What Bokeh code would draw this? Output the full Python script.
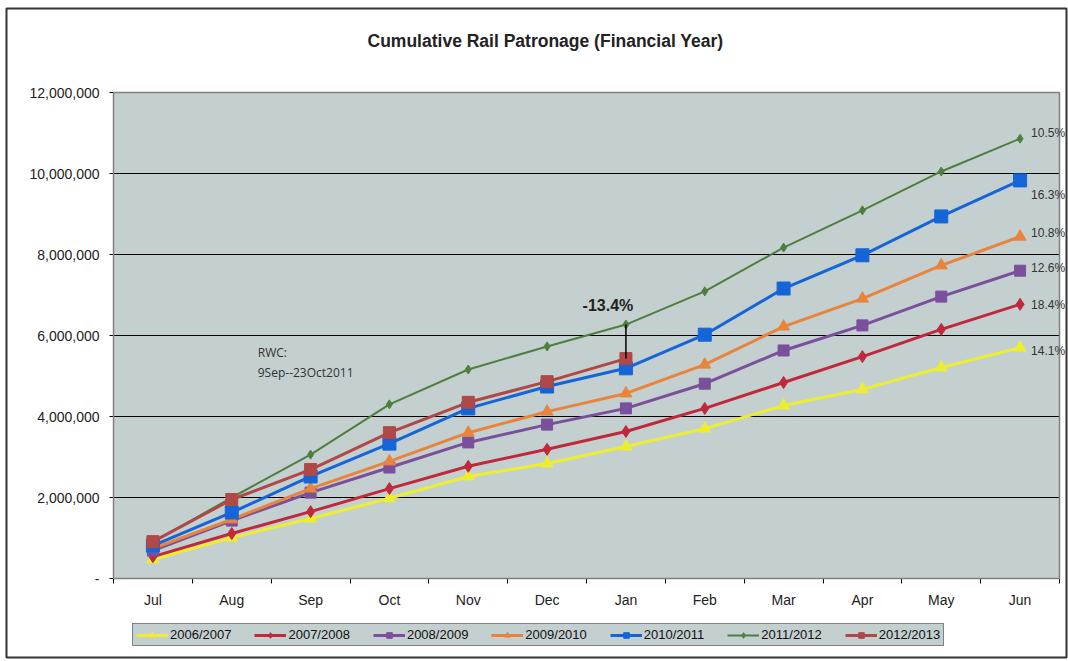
from bokeh.plotting import figure
from bokeh.models import (Range1d, LinearAxis, FixedTicker, CustomJSTickFormatter,
                          Label, Legend, LegendItem, BoxAnnotation)
from bokeh.embed import file_html
from bokeh.resources import INLINE

months = ["Jul", "Aug", "Sep", "Oct", "Nov", "Dec", "Jan", "Feb", "Mar", "Apr", "May", "Jun"]

fy_2006_2007 = [470000, 1010000, 1480000, 1980000, 2520000, 2840000, 3260000, 3700000, 4270000, 4670000, 5210000, 5700000]
fy_2007_2008 = [540000, 1110000, 1650000, 2220000, 2770000, 3190000, 3630000, 4200000, 4840000, 5480000, 6150000, 6770000]
fy_2008_2009 = [690000, 1430000, 2120000, 2740000, 3360000, 3800000, 4200000, 4810000, 5630000, 6250000, 6960000, 7600000]
fy_2009_2010 = [740000, 1460000, 2220000, 2890000, 3600000, 4120000, 4570000, 5280000, 6220000, 6910000, 7730000, 8440000]
fy_2010_2011 = [810000, 1630000, 2520000, 3330000, 4200000, 4740000, 5190000, 6020000, 7160000, 7980000, 8940000, 9830000]
fy_2011_2012 = [900000, 2000000, 3060000, 4300000, 5160000, 5730000, 6270000, 7090000, 8170000, 9090000, 10050000, 10860000]
fy_2012_2013 = [910000, 1950000, 2690000, 3600000, 4350000, 4860000, 5430000]

series_names = ["2006/2007", "2007/2008", "2008/2009", "2009/2010", "2010/2011", "2011/2012", "2012/2013"]
series_values = [fy_2006_2007, fy_2007_2008, fy_2008_2009, fy_2009_2010, fy_2010_2011, fy_2011_2012, fy_2012_2013]
growth_labels = ["14.1%", "18.4%", "12.6%", "10.8%", "16.3%", "10.5%", None]
y_ticks = [0, 2000000, 4000000, 6000000, 8000000, 10000000, 12000000]
y_max = 12000000
gap_label = "-13.4%"
gap_month = "Jan"
rwc_text = "RWC:\n9Sep--23Oct2011"
title_text = "Cumulative Rail Patronage (Financial Year)"

colors = ["#eeee30", "#c0283c", "#7a4f9c", "#e8843c", "#1565d8", "#4f7f3f", "#b04848"]
markers = ["triangle", "diamond", "square", "triangle", "square", "diamond", "square"]
msizes = [12, 12, 11, 12, 13, 9, 12]
lwidths = [3, 3, 3, 3, 3, 2, 3]
label_dy = [-3, -1, 3, 4, -15, 6, 0]

BG = "#c4cfcf"
FONT = "Liberation Sans"

# ---- layout: the frame fills the canvas; the plotting area sits inside it ----
W, H = 1068, 661
PX_L, PX_R, PX_T, PX_B = 113, 1059, 92, 578
n = len(months)
xu = n / (PX_R - PX_L)
yu = y_max / (PX_B - PX_T)
x_start, x_end = -PX_L * xu, n + (W - PX_R) * xu
y_start, y_end = -(H - PX_B) * yu, y_max + PX_T * yu


def cx(px):
    return x_start + px * xu


def cy(py):
    return y_end - py * yu


def mpos(m):
    # centre of a month's category slot on the x scale
    return months.index(m) + 0.5


p = figure(width=W, height=H, x_range=Range1d(x_start, x_end), y_range=Range1d(y_start, y_end),
           output_backend="svg", toolbar_location=None,
           x_axis_location=None, y_axis_location=None,
           min_border_left=0, min_border_right=0, min_border_top=0, min_border_bottom=0)
p.background_fill_color = "white"
p.border_fill_color = "white"
p.outline_line_color = None
p.grid.visible = False

# plot area background and grid lines
p.quad(left=[0], right=[n], bottom=[0], top=[y_max], fill_color=BG, line_color=None)
inner = y_ticks[1:-1]
p.segment(x0=[0] * len(inner), x1=[n] * len(inner), y0=inner, y1=inner,
          line_color="black", line_width=1.2)

xaxis = LinearAxis(fixed_location=0,
                   ticker=FixedTicker(ticks=[mpos(m) for m in months],
                                      minor_ticks=list(range(n + 1))),
                   formatter=CustomJSTickFormatter(args={"months": months},
                                                   code="return months[Math.floor(tick)] || ''"))
xaxis.bounds = (0, n)
xaxis.major_tick_line_color = None
xaxis.minor_tick_out = 5
xaxis.minor_tick_in = 0
xaxis.minor_tick_line_color = "black"
xaxis.axis_line_color = "black"
xaxis.major_label_text_font = FONT
xaxis.major_label_text_font_size = "14px"
xaxis.major_label_text_color = "#222222"
xaxis.major_label_standoff = 7
p.add_layout(xaxis, "below")

yaxis = LinearAxis(fixed_location=0, ticker=FixedTicker(ticks=y_ticks, minor_ticks=[]),
                   formatter=CustomJSTickFormatter(code="return tick == 0 ? '-' : tick.toLocaleString('en-US')"))
yaxis.bounds = (0, y_max)
yaxis.major_tick_out = 4
yaxis.major_tick_in = 0
yaxis.axis_line_color = "black"
yaxis.major_tick_line_color = "black"
yaxis.major_label_text_font = FONT
yaxis.major_label_text_font_size = "14px"
yaxis.major_label_text_color = "#222222"
yaxis.major_label_standoff = 10
p.add_layout(yaxis, "left")

items = []
for name, vals, c, m, ms, lw in zip(series_names, series_values, colors, markers, msizes, lwidths):
    xs = [mpos(mm) for mm in months[:len(vals)]]
    lr = p.line(xs, vals, line_color=c, line_width=lw)
    mr = p.scatter(xs, vals, marker=m, size=ms, fill_color=c, line_color=c)
    items.append(LegendItem(label=name, renderers=[lr, mr]))

# plot area border (top / right in grey)
p.add_layout(BoxAnnotation(left=0, right=n, bottom=0, top=y_max, fill_alpha=0,
                           line_color="#808080", line_alpha=1, line_width=1.5))

# gap connector at Jan
gi = months.index(gap_month)
p.segment(x0=[mpos(gap_month)], y0=[fy_2011_2012[gi]], x1=[mpos(gap_month)], y1=[fy_2012_2013[gi]],
          line_color="black", line_width=1.5)
p.add_layout(Label(x=mpos(gap_month), y=fy_2011_2012[gi], x_offset=-18, y_offset=19, text=gap_label,
                   text_align="center", text_baseline="middle", text_font=FONT,
                   text_font_style="bold", text_font_size="16px", text_color="#222222"))

# end growth labels
for vals, g, dy in zip(series_values, growth_labels, label_dy):
    if g is None:
        continue
    p.add_layout(Label(x=mpos(months[len(vals) - 1]), y=vals[-1], x_offset=11, y_offset=dy, text=g,
                       text_align="left", text_baseline="middle", text_font=FONT,
                       text_font_size="12px", text_color="#333333"))

p.add_layout(Label(x=mpos("Aug"), y=5800000, x_offset=26, text=rwc_text,
                   text_align="left", text_baseline="top", text_font="Open Sans",
                   text_font_size="12px", text_color="#333333", text_line_height=1.2))

p.add_layout(Label(x=cx(545), y=cy(40), text=title_text,
                   text_align="center", text_baseline="middle", text_font=FONT,
                   text_font_style="bold", text_font_size="17.5px", text_color="#222222"))

legend = Legend(items=items, orientation="horizontal", location=(132, H - 646),
                glyph_width=32, glyph_height=14, label_standoff=2, spacing=23,
                padding=3, margin=0, background_fill_color=BG, background_fill_alpha=1,
                border_line_color="#333333", border_line_width=1.5,
                label_text_font=FONT, label_text_font_size="13px", label_height=14,
                label_text_color="#111111")
p.add_layout(legend)

# scanned page frame
p.add_layout(BoxAnnotation(left=cx(6), right=cx(1066), top=cy(8), bottom=cy(657), fill_alpha=0,
                           line_color="#333333", line_alpha=1, line_width=2))

open("out.html", "w").write(file_html(p, INLINE))
